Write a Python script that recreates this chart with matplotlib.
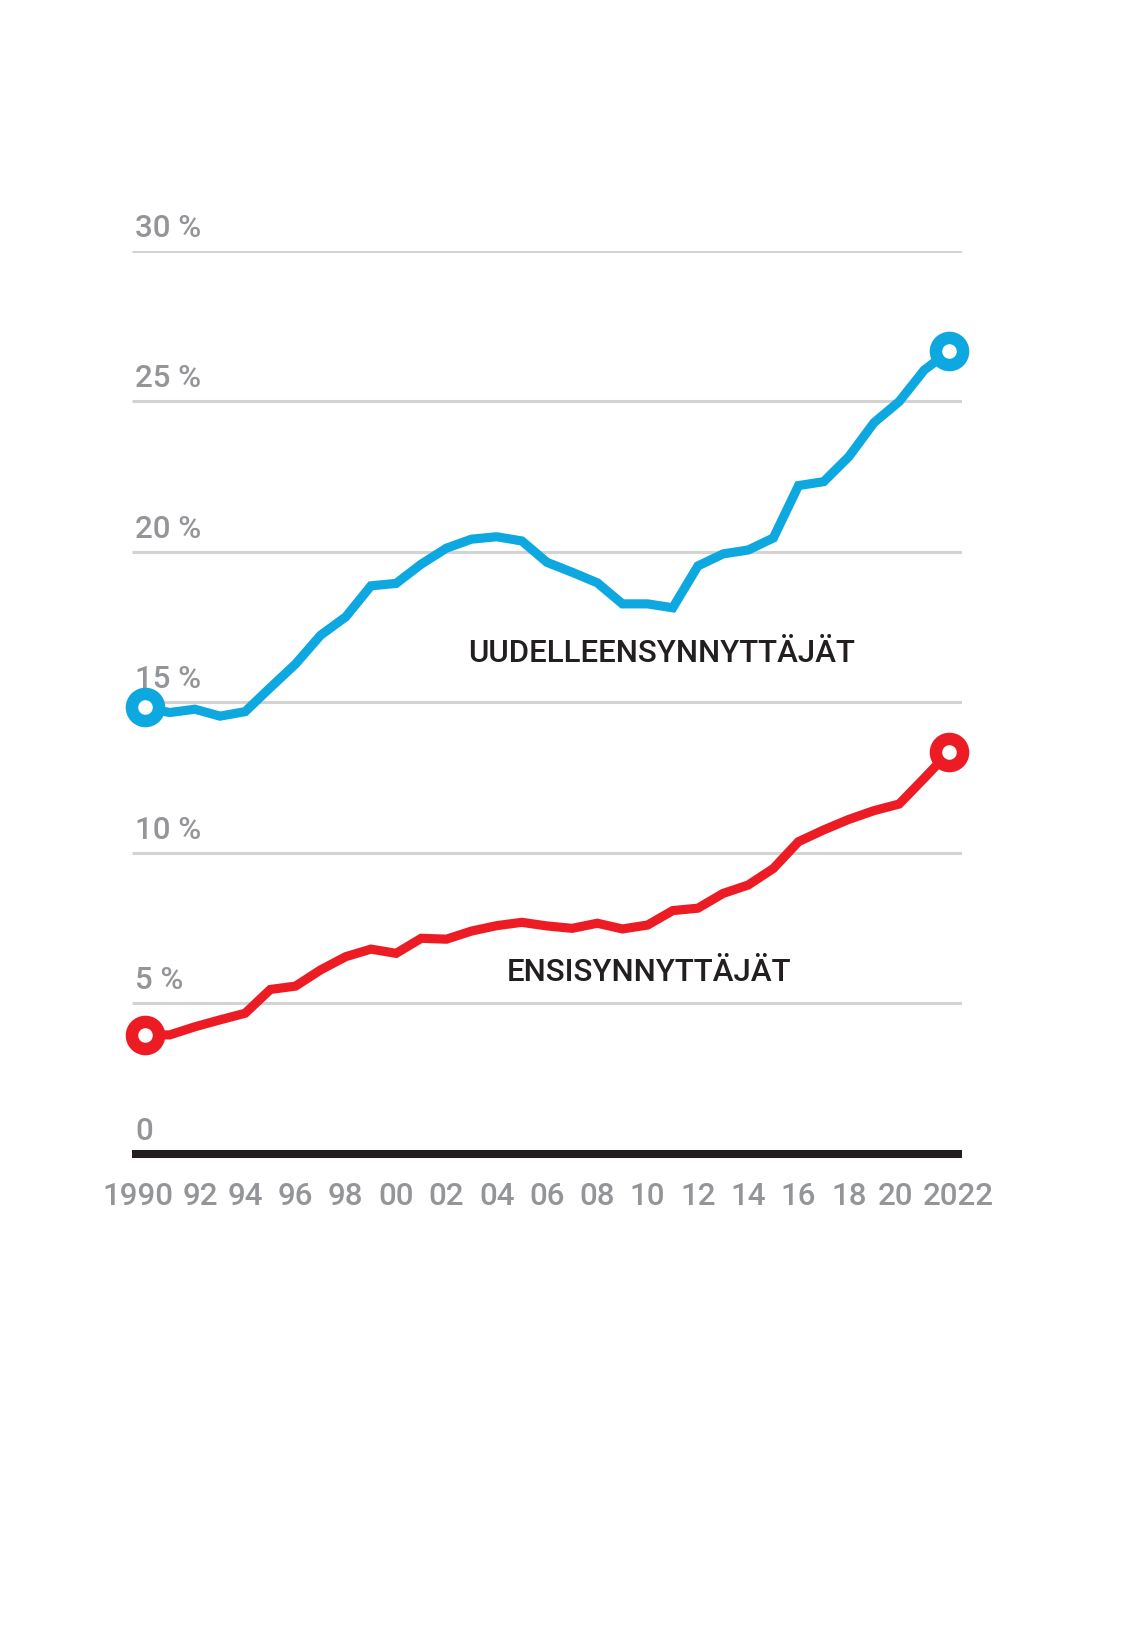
import matplotlib
matplotlib.use("Agg")
import matplotlib.pyplot as plt
from matplotlib.transforms import offset_copy, blended_transform_factory

plt.rcParams['font.family'] = ['Roboto', 'DejaVu Sans']

# ---- data ----
years = list(range(1990, 2023))
uudelleen = [14.82, 14.65, 14.76, 14.53, 14.68, 15.48, 16.26, 17.22, 17.83, 18.86,
             18.94, 19.58, 20.11, 20.41, 20.49, 20.35, 19.64, 19.31, 18.96, 18.26,
             18.26, 18.13, 19.52, 19.92, 20.05, 20.45, 22.19, 22.32, 23.15, 24.28,
             24.98, 26.03, 26.66]
ensi = [3.94, 3.94, 4.21, 4.44, 4.66, 5.45, 5.56, 6.10, 6.54, 6.79,
        6.65, 7.15, 7.12, 7.39, 7.57, 7.68, 7.56, 7.48, 7.65, 7.46,
        7.59, 8.07, 8.15, 8.64, 8.92, 9.47, 10.36, 10.75, 11.10, 11.39,
        11.61, 12.47, 13.35]
y_ticks = [0, 5, 10, 15, 20, 25, 30]
y_tick_labels = ["0", "5 %", "10 %", "15 %", "20 %", "25 %", "30 %"]
x_ticks = list(range(1990, 2023, 2))
x_tick_labels = ["1990", "92", "94", "96", "98", "00", "02", "04", "06", "08",
                 "10", "12", "14", "16", "18", "20", "2022"]
series_names = ["UUDELLEENSYNNYTTÄJÄT", "ENSISYNNYTTÄJÄT"]

BLUE = "#0ea8e0"
RED = "#ed1c24"
GRAY_TXT = "#939598"
GRID = "#d1d3d4"
BLACK = "#231f20"

fig = plt.figure(figsize=(11.22, 16.30), dpi=100)
ax = fig.add_axes([132 / 1122, (1630 - 1153.5) / 1630, 830 / 1122, 903 / 1630])
ax.set_xlim(1989.5, 2022.5)
ax.set_ylim(0, 30)
ax.axis("off")

# gridlines
for v in y_ticks[1:]:
    ax.axhline(v, color=GRID, lw=2.2, zorder=1, solid_capstyle="butt")
ax.axhline(0, color=BLACK, lw=5.8, zorder=2, solid_capstyle="butt", clip_on=False)

# y tick labels
ytrans = offset_copy(blended_transform_factory(ax.transAxes, ax.transData),
                     fig=fig, x=3, y=13.6, units="dots")
for v, lab in zip(y_ticks, y_tick_labels):
    ax.text(0, v, lab, transform=ytrans, ha="left", va="baseline",
            fontsize=22.5, color=GRAY_TXT, fontweight="medium")

# x tick labels
xshift = {1990: -7, 1992: 5, 2020: -4, 2022: 8.5}
for yr, lab in zip(x_ticks, x_tick_labels):
    tr = offset_copy(ax.transData, fig=fig, x=xshift.get(yr, 0), y=-51.5, units="dots")
    ax.text(yr, 0, lab, transform=tr, ha="center", va="baseline",
            fontsize=22.5, color=GRAY_TXT, fontweight="medium")

# lines
for vals, col in [(uudelleen, BLUE), (ensi, RED)]:
    ax.plot(years, vals, color=col, lw=6.6, solid_joinstyle="miter",
            solid_capstyle="butt", zorder=3, clip_on=False)
    ax.plot([years[0], years[-1]], [vals[0], vals[-1]], ls="none", marker="o",
            ms=19.5, mew=9, mfc="white", mec=col, zorder=4, clip_on=False)

# series labels
ax.text(2002.87, 16.33, series_names[0], ha="left", va="baseline",
        fontsize=22.5, color=BLACK, fontweight="medium")
ax.text(2004.40, 5.73, series_names[1], ha="left", va="baseline",
        fontsize=22.5, color=BLACK, fontweight="medium")

fig.savefig("out.png", dpi=100, facecolor="white")
